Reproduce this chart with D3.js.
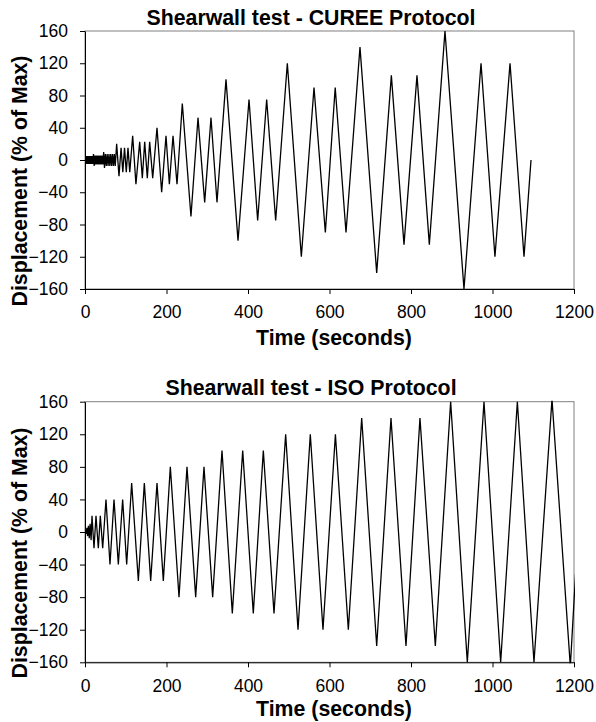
<!DOCTYPE html>
<html lang="en">
<head>
    <meta charset="UTF-8">
    <title>Shearwall test protocols</title>
    <script src="https://d3js.org/d3.v7.min.js"></script>
    <style>
        body { margin: 0; background: #fff; font-family: "Liberation Sans", Arial, sans-serif; }
        .tick text { font-size: 17.5px; fill: #000; }
        .chart-title, .axis-label { font-weight: bold; font-size: 21.3px; fill: #000; }
    </style>
</head>
<body>
    <svg width="596" height="722"></svg>
    <script>
        // values (time in seconds, displacement in % of max)
        const cureeTime = [0, 0.8, 2.5, 4.2, 5.8, 7.5, 9.2, 10.8, 12.5, 14.2, 15.8, 17.5, 19.2,
            20.8, 22.5, 24.2, 26, 27.8, 29.6, 31.4, 33.2, 35, 36.8, 38.6, 40.4, 42.2, 44,
            45.8, 47.8, 50, 52.2, 54.4, 56.6, 58.8, 61, 63.2, 65.4, 67.6, 69.8, 72, 74.2,
            77.7, 83.4, 88.5, 92.8, 97, 101.3, 105.5, 109.8,
            117, 125, 134.2, 140.7, 146.5, 152.9, 158.7, 166.1,
            176.7, 188.1, 198.8, 207, 216, 225.8,
            238.8, 260, 277.3, 293.7, 309.2, 323.9,
            346, 375.5, 402.5, 423.7, 445.8, 467.9,
            496.5, 530.9, 562, 589.8, 614, 640.5,
            674.8, 715.8, 751.8, 782.8, 814.7, 845,
            883.4, 930, 971.8, 1006, 1043, 1077.3, 1094.5];
        const cureeDisp = [0, 5, -5, 5, -5, 5, -5, 5, -5, 5, -5, 5, -5,
            7.5, -7.5, 5.6, -5.6, 5.6, -5.6, 5.6, -5.6, 5.6, -5.6, 5.6, -5.6, 5.6, -5.6,
            10, -10, 7.5, -7.5, 7.5, -7.5, 7.5, -7.5, 7.5, -7.5, 7.5, -7.5, 7.5, -7.5,
            20, -20, 15, -15, 15, -15, 15, -15,
            30, -30, 22.5, -22.5, 22.5, -22.5, 22.5, -22.5,
            40, -40, 30, -30, 30, -30,
            70, -70, 52.5, -52.5, 52.5, -52.5,
            100, -100, 75, -75, 75, -75,
            120, -120, 90, -90, 90, -90,
            140, -140, 105, -105, 105, -105,
            160, -160, 120, -120, 120, -120, 0];

        const isoTime = [0, 0.4, 1.0, 1.8, 3.0, 4.6, 6.4, 8.4, 10.4, 12.6, 15,
            17.2, 22.1, 27, 32.7, 37.6, 43.4,
            51.5, 61.3, 71.2, 81.8, 92.4, 102.3,
            114.5, 130.9, 145.6, 161.2, 176.7, 192.2,
            209.4, 230.7, 250.3, 271.6, 292, 313.3,
            336.2, 361.5, 387, 413, 437.6, 463.8,
            492.4, 522.7, 552.9, 584, 614.5, 646.2,
            679, 715.8, 750.9, 787.7, 822, 859.7,
            897.3, 938.2, 979.1, 1020, 1061, 1101.8,
            1146, 1191, 1230];
        const isoDisp = [0, 1.25, -1.25, 2.5, -2.5, 5, -5, 7.5, -7.5, 10, -10,
            20, -20, 20, -20, 20, -20,
            40, -40, 40, -40, 40, -40,
            60, -60, 60, -60, 60, -60,
            80, -80, 80, -80, 80, -80,
            100, -100, 100, -100, 100, -100,
            120, -120, 120, -120, 120, -120,
            140, -140, 140, -140, 140, -140,
            160, -160, 160, -160, 160, -160,
            163, -165, 180];

        const xTicks = [0, 200, 400, 600, 800, 1000, 1200];
        const yTicks = [-160, -120, -80, -40, 0, 40, 80, 120, 160];

        const titles = ["Shearwall test - CUREE Protocol", "Shearwall test - ISO Protocol"];

        const svg = d3.select("svg");
        const left = 85, right = 574;

        function drawPanel(idx, times, disps, top, bottom, titleY, xLabelY) {
            const g = svg.append("g");
            const x = d3.scaleLinear().domain([0, 1200]).range([left, right]);
            const y = d3.scaleLinear().domain([-160, 160]).range([bottom, top]);

            // plot area frame (grey top/right like excel)
            g.append("rect")
                .attr("x", left).attr("y", top)
                .attr("width", right - left).attr("height", bottom - top)
                .attr("fill", "none").attr("stroke", "#808080").attr("stroke-width", 1);

            const clipId = "clip" + idx;
            svg.append("clipPath").attr("id", clipId)
                .append("rect")
                .attr("x", left).attr("y", top - 1)
                .attr("width", right - left + 1).attr("height", bottom - top + 2);

            const pts = times.map((t, i) => [t, disps[i]]);
            const line = d3.line().x(d => x(d[0])).y(d => y(d[1]));

            g.append("path")
                .datum(pts)
                .attr("clip-path", `url(#${clipId})`)
                .attr("fill", "none")
                .attr("stroke", "#000")
                .attr("stroke-width", 1.3)
                .attr("stroke-linejoin", "miter")
                .attr("d", line);

            const yAxis = g.append("g")
                .attr("transform", `translate(${left},0)`)
                .call(d3.axisLeft(y).tickValues(yTicks).tickFormat(d3.format("d"))
                    .tickSize(5).tickSizeOuter(0).tickPadding(12));
            const xAxis = g.append("g")
                .attr("transform", `translate(0,${bottom})`)
                .call(d3.axisBottom(x).tickValues(xTicks).tickFormat(d3.format("d"))
                    .tickSize(5).tickSizeOuter(0).tickPadding(12));

            [yAxis, xAxis].forEach(a => {
                a.selectAll("path, line").attr("stroke", "#000").attr("stroke-width", 1);
                a.attr("font-family", null).attr("font-size", null);
            });

            g.append("text")
                .attr("class", "chart-title")
                .attr("x", 311).attr("y", titleY)
                .attr("text-anchor", "middle")
                .text(titles[idx]);

            g.append("text")
                .attr("class", "axis-label")
                .attr("x", 334).attr("y", xLabelY)
                .attr("text-anchor", "middle")
                .text("Time (seconds)");

            g.append("text")
                .attr("class", "axis-label")
                .attr("transform", `translate(27,${(top + bottom) / 2 + 21}) rotate(-90)`)
                .attr("text-anchor", "middle")
                .text("Displacement (% of Max)");
        }

        drawPanel(0, cureeTime, cureeDisp, 31, 289, 25, 345);
        drawPanel(1, isoTime, isoDisp, 401.7, 662.3, 395, 716);
    </script>
</body>
</html>
